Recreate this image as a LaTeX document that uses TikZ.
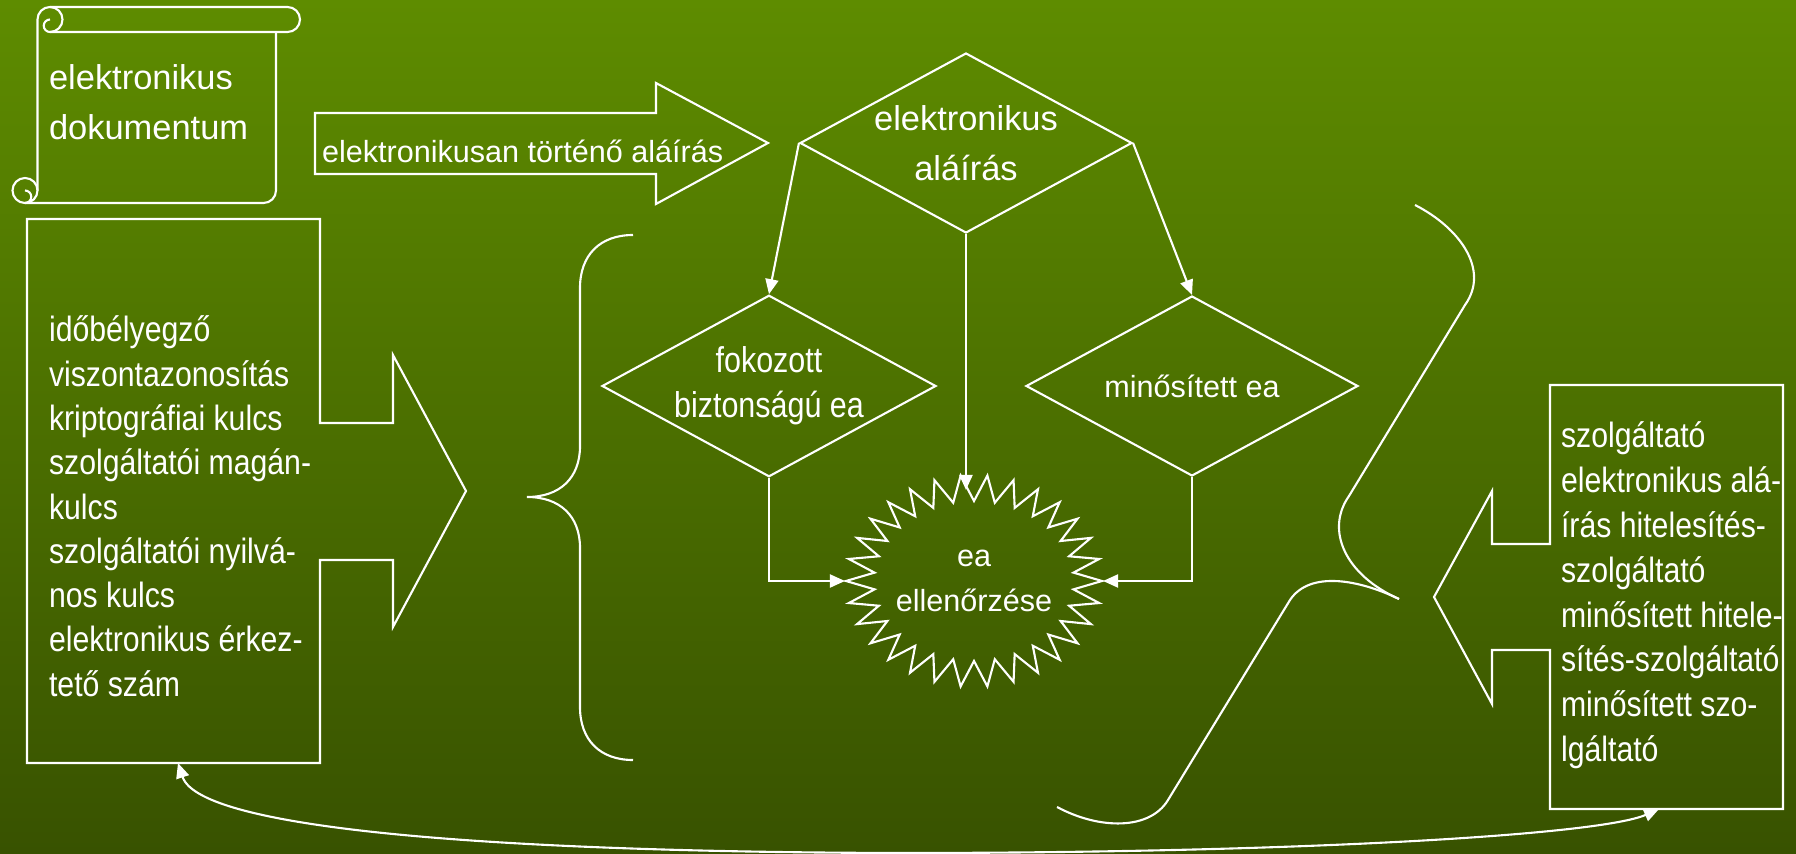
\documentclass[tikz,border=0pt]{standalone}
\usepackage{fontspec}
\setmainfont{Liberation Sans}
\newfontfamily\narrowsf[FakeStretch=0.86]{Liberation Sans}
\newfontfamily\fokfont[FakeStretch=0.85]{Liberation Sans}
\usetikzlibrary{shapes.geometric,arrows.meta,positioning}

\definecolor{bgtop}{RGB}{94,140,0}
\definecolor{bgbot}{RGB}{56,82,0}

\tikzstyle{txt} = [text=white, inner sep=0pt]
\tikzstyle{dia} = [diamond, draw=white, text=white, aspect=1.84, minimum width=33.2mm, minimum height=18mm, inner sep=0pt, align=center]

\begin{document}
\begin{tikzpicture}[x=0.1mm, y=-0.1mm,
>={Triangle[length=1.5mm,width=1.3mm]},
line width=0.6pt, white,
font=\fontsize{8.7pt}{12.8pt}\selectfont,
]

% background
\shade[top color=bgtop, bottom color=bgbot] (0,0) rectangle (1796,854);
\useasboundingbox (0,0) rectangle (1796,854);

%SCROLL
\draw (37.5,190.5) -- (37.5,19.5) arc[start angle=180, end angle=270, radius=12.5] -- (287.5,7) arc[start angle=-90, end angle=90, radius=12.5] -- (50,32);
\draw (50,7) arc[start angle=-90, end angle=90, radius=12.5] arc[start angle=90, end angle=270, radius=6.25];
\draw (276,32) -- (276,190.5) arc[start angle=0, end angle=90, radius=12.5] -- (25,203);
\draw (25,190.5) circle[radius=12.5];
\draw (25,190.5) arc[start angle=270, end angle=450, radius=6.25];
\node[txt, anchor=north west, align=left, font=\fontsize{9.8pt}{14.5pt}\selectfont] (doc) at (48,63) {elektronikus\\dokumentum};

%SIGN ARROW
\draw (315,113) -- (656,113) -- (656,83) -- (768,143) -- (656,204) -- (656,174) -- (315,174) -- cycle;
\node[txt, anchor=base west] (sig) at (321,163) {elektronikusan történő aláírás};

%DIAMONDS
\node[dia, font=\fontsize{9.8pt}{14.2pt}\selectfont] (ea) at (966,143) {elektronikus\\aláírás};
\node[dia, font=\fokfont\fontsize{10.2pt}{12.8pt}\selectfont] (fok) at (769,386) {fokozott\\biztonságú ea};
\node[dia] (min) at (1192,386) {minősített ea};

%CHECK
\draw plot[samples at={0,...,59}, variable=\k]
 ({974+ifthenelse(mod(\k,2)==0,128,100)*cos(6*\k)}, {581+ifthenelse(mod(\k,2)==0,106,80)*sin(6*\k)}) -- cycle;
\node[ellipse, minimum width=25.6mm, minimum height=18mm, inner sep=0pt, align=center] (chk) at (974,581) {ea\\ellenőrzése};

\draw[->] (ea.west) -- (fok.north);
\draw[->] (ea.east) -- (min.north);
\draw[->] (ea.south) -- (ea.south |- chk.north);
\draw[->] (fok.south) |- (chk.west);
\draw[->] (min.south) |- (chk.east);

%BRACES
\draw (633,235) .. controls (600,235) and (580,255) .. (580,288) -- (580,446)
 .. controls (580,478) and (560,497) .. (527,497)
 .. controls (560,497) and (580,516) .. (580,548) -- (580,707)
 .. controls (580,740) and (600,760) .. (633,760);
\draw (1415,205) .. controls (1460,228) and (1490,270) .. (1465,305) -- (1349,496)
 .. controls (1325,530) and (1345,575) .. (1399,599);
\draw (1399,599) .. controls (1360,580) and (1310,570) .. (1290,600) -- (1168,800)
 .. controls (1150,830) and (1100,830) .. (1057,807);

%LEFT BOX
\draw (27,219) -- (320,219) -- (320,423) -- (393,423) -- (393,355) -- (466,491) -- (393,627) -- (393,560) -- (320,560) -- (320,763) -- (27,763) -- cycle;
\node[txt, anchor=north west, align=left, font=\narrowsf\fontsize{10pt}{12.6pt}\selectfont] (ltxt) at (48,315)
 {időbélyegző\\viszontazonosítás\\kriptográfiai kulcs\\szolgáltatói magán-\\kulcs\\szolgáltatói nyilvá-\\nos kulcs\\elektronikus érkez-\\tető szám};

%RIGHT BOX
\draw (1550,385) -- (1783,385) -- (1783,809) -- (1550,809) -- (1550,650) -- (1492,650) -- (1492,704) -- (1434,597) -- (1492,491) -- (1492,544) -- (1550,544) -- cycle;
\node[txt, anchor=north west, align=left, font=\narrowsf\fontsize{10pt}{12.75pt}\selectfont] (rtxt) at (1560,421)
 {szolgáltató\\elektronikus alá-\\írás hitelesítés-\\szolgáltató\\minősített hitele-\\sítés-szolgáltató\\minősített szo-\\lgáltató};

%LINK
\coordinate (lfoot) at (178,763);
\coordinate (rfoot) at (1659,809);
\draw[<->] (lfoot) .. controls (200,830) and (500,852) .. (900,853) .. controls (1300,853) and (1600,835) .. (rfoot);

\end{tikzpicture}
\end{document}
